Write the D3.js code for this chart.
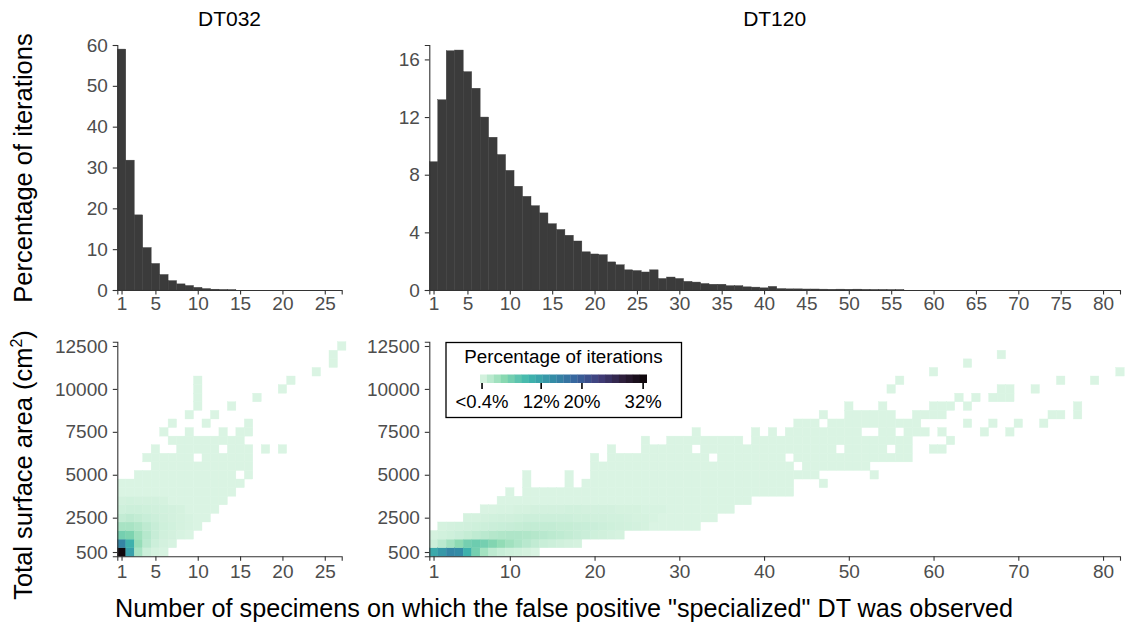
<!DOCTYPE html>
<html>
<head>
<meta charset="utf-8">
<script src="https://cdn.jsdelivr.net/npm/d3@7"></script>
<style>
  body { margin: 0; background: #fff; }
  text { font-family: "Liberation Sans", Arial, Helvetica, sans-serif; }
</style>
</head>
<body>
<div id="chart"></div>
<script>
// ---- histogram values: % of iterations for 1, 2, 3 ... specimens ----
var dt032Hist = [59, 31.8, 18.4, 10.4, 6.5, 3.8, 2.3, 1.5, 1.1, 0.65, 0.35, 0.2, 0.1, 0.05];
var dt120Hist = [8.9, 13.2, 16.6, 16.65, 15.15, 14.0, 12.0, 10.6, 9.4, 8.3, 7.2, 6.5, 5.85, 5.35,
  4.6, 4.2, 3.8, 3.4, 2.65, 2.5, 2.45, 1.95, 1.75, 1.4, 1.35, 1.25, 1.4, 0.8, 0.9, 0.8,
  0.6, 0.55, 0.45, 0.4, 0.4, 0.3, 0.3, 0.22, 0.2, 0.15, 0.25, 0.1, 0.08, 0.08, 0.07, 0.07,
  0.06, 0.05, 0.06, 0.05, 0.06, 0.04, 0.03, 0.03, 0.02, 0.02];

// tick values
var dt032HistYTicks = [0, 10, 20, 30, 40, 50, 60];
var dt120HistYTicks = [0, 4, 8, 12, 16];
var dt032XTicks = [1, 5, 10, 15, 20, 25];
var dt120HistXTicks = [1, 5, 10, 15, 20, 25, 30, 35, 40, 45, 50, 55, 60, 65, 70, 75, 80];
var dt120HeatXTicks = [1, 10, 20, 30, 40, 50, 60, 70, 80];
var areaTicks = [500, 2500, 5000, 7500, 10000, 12500];
var legendTicks = [0.4, 12, 20, 32];
var legendLabels = ["<0.4%", "12%", "20%", "32%"];

// ---- heat maps: occupied bins [specimens, area from, area to] in cm² (bins of 500) ----
var dt032Cells = [
  [1, 500, 4500], [2, 500, 4500], [3, 500, 5000], [4, 500, 5000], [4, 6000, 6000],
  [5, 500, 6500], [6, 500, 6500], [6, 7500, 7500], [7, 1000, 7000], [7, 8000, 8000],
  [8, 1500, 7000], [9, 1500, 7500], [9, 8500, 8500], [10, 2000, 7000], [10, 9000, 10500],
  [11, 2500, 7000], [11, 8000, 8000], [12, 3000, 7000], [12, 8500, 8500], [13, 3500, 7500],
  [14, 4000, 7000], [14, 9000, 9000], [15, 4500, 7500], [16, 5000, 8000], [17, 9500, 9500],
  [18, 6500, 6500], [20, 6500, 6500], [20, 10000, 10000], [21, 10500, 10500],
  [24, 11000, 11000], [26, 11500, 12000], [27, 12500, 12500]
];
var dt032Gaps = [[6, 6500], [7, 6500], [10, 6000], [13, 6500], [15, 5000], [16, 7000]];
// shaded rows: [area, % for specimens 1, 2, 3 ...]
var dt032Shades = [
  [500,  [32, 12, 3, 1, 0.5, 0.4]],
  [1000, [15, 10, 4, 2, 1, 0.6, 0.4]],
  [1500, [6, 5.5, 3.5, 2.2, 1.3, 0.8, 0.6, 0.4]],
  [2000, [3, 3, 2.5, 1.8, 1.3, 0.9, 0.7, 0.5, 0.4]],
  [2500, [1.5, 1.8, 1.5, 1.2, 1, 0.8, 0.6, 0.5, 0.4]],
  [3000, [0.9, 1, 1, 0.9, 0.8, 0.7, 0.6, 0.5]],
  [3500, [0.6, 0.7, 0.6, 0.6, 0.6, 0.5]]
];

var dt120Cells = [
  [1, 500, 1500], [2, 500, 2000], [3, 500, 2000], [4, 500, 2000], [5, 500, 2500], [6, 500, 2500],
  [7, 500, 3000], [8, 500, 3000], [9, 500, 3500], [10, 500, 4000], [11, 500, 3500], [12, 500, 5000],
  [13, 500, 4000], [14, 1000, 4000], [15, 1000, 4000], [16, 1000, 4000], [17, 1000, 5000], [18, 1000, 4000],
  [19, 1500, 4500], [20, 1500, 6000], [21, 1500, 6000], [22, 1500, 6000], [22, 6500, 6500], [23, 1500, 6000],
  [24, 2000, 6000], [25, 2000, 6000], [26, 2000, 6500], [26, 7000, 7000], [27, 2000, 6500], [28, 2000, 6500],
  [29, 2000, 7000], [30, 2000, 7000], [31, 2000, 7000], [32, 2000, 7500], [33, 2500, 7000],
  [34, 2500, 7000], [35, 3000, 7000], [36, 3000, 7000], [37, 3500, 7000], [38, 3500, 6500],
  [39, 4000, 7500], [40, 4000, 7000], [41, 4000, 7500], [42, 4000, 7000], [43, 4000, 7500],
  [44, 5000, 8000], [45, 5000, 8000], [46, 5000, 8000], [47, 4500, 7500], [47, 8500, 8500],
  [48, 5500, 8000], [49, 5500, 8000], [50, 5500, 9000], [51, 5500, 8500], [52, 5500, 8500],
  [53, 5000, 8500], [54, 6000, 9000], [55, 6000, 8500], [55, 10000, 10000], [56, 6000, 8000],
  [56, 10500, 10500], [57, 6000, 8000], [58, 7500, 8500], [59, 7500, 7500], [59, 8500, 8500],
  [60, 6500, 6500], [60, 8500, 9000], [60, 11000, 11000], [61, 6500, 6500], [61, 7500, 7500],
  [61, 8500, 9000], [62, 7000, 7000], [62, 9000, 9000], [63, 9500, 9500], [64, 8000, 8000],
  [64, 9000, 9000], [64, 11500, 11500], [65, 9500, 9500], [66, 7500, 7500], [67, 8000, 8000],
  [67, 9500, 9500], [68, 9500, 10000], [68, 12000, 12000], [69, 7500, 7500], [69, 9500, 10000],
  [70, 8000, 8000], [72, 10000, 10000], [73, 8000, 8000], [74, 8500, 8500], [75, 8500, 8500],
  [75, 10500, 10500], [77, 8500, 9000], [79, 10500, 10500], [82, 11000, 11000]
];
var dt120Gaps = [[21, 6000], [32, 6500], [34, 6000], [43, 6000], [44, 5500], [47, 5000], [47, 8000],
  [49, 6500], [52, 7500], [53, 5500], [53, 7500], [55, 6500], [56, 7500]];
var dt120Shades = [
  [500,  [11, 13, 15, 14.5, 10, 6, 3.2, 1.8, 1.2, 0.9, 0.7, 0.5]],
  [1000, [1, 2, 3.2, 4.5, 6, 6.5, 6, 5.2, 4.2, 3.4, 2.7, 2.1, 1.6, 1.2, 1, 0.8, 0.6, 0.5]],
  [1500, [0.5, 0.7, 0.9, 1.1, 1.4, 1.7, 2, 2.3, 2.5, 2.6, 2.6, 2.5, 2.3, 2.1, 1.9, 1.7, 1.5, 1.3,
          1.1, 0.9, 0.8, 0.6, 0.5]],
  [2000, [0, 0.5, 0.6, 0.7, 0.8, 0.9, 1, 1.1, 1.2, 1.3, 1.4, 1.5, 1.5, 1.5, 1.5, 1.4, 1.4, 1.3,
          1.2, 1.1, 1, 0.9, 0.8, 0.7, 0.6, 0.5]],
  [2500, [0, 0, 0, 0, 0.5, 0.5, 0.6, 0.7, 0.8, 0.8, 0.9, 1, 1, 1, 1, 1, 1, 0.9, 0.9, 0.8, 0.8,
          0.7, 0.7, 0.6, 0.5, 0.5, 0.4]],
  [3000, [0, 0, 0, 0, 0, 0, 0.3, 0.3, 0.4, 0.4, 0.5, 0.5, 0.6, 0.6, 0.6, 0.6, 0.7, 0.7, 0.6, 0.6,
          0.6, 0.6, 0.5, 0.5, 0.5, 0.4, 0.4, 0.4]]
];

// reversed mako palette, light to dark
var makoColors = ["#DEF5E5", "#8AD9B1", "#40B7AD", "#348FA7", "#37659E", "#413D7B", "#2E1E3B", "#0B0405"];

// ---- layout ----
var svg = d3.select("#chart").append("svg")
  .attr("width", 1130)
  .attr("height", 627);

var font = '"Liberation Sans", Arial, sans-serif';
var pctMax = 32.7;

var xLeft = d3.scaleLinear().domain([0.5, 27]).range([117.3, 341.7]);
var xRight = d3.scaleLinear().domain([0.5, 82]).range([429.3, 1120]);
var yHistL = d3.scaleLinear().domain([0, 60]).range([290, 45]);
var yHistR = d3.scaleLinear().domain([0, 17]).range([290, 45]);
var yArea = d3.scaleLinear().domain([250, 12750]).range([556.3, 341.7]);

var color = d3.scaleLinear()
  .domain(makoColors.map((c, i) => i / (makoColors.length - 1) * pctMax))
  .range(makoColors)
  .clamp(true);

// turn the bin ranges into cells
function buildCells(ranges, gaps, shades) {
  var cells = [];
  ranges.forEach(r => {
    for (var a = r[1]; a <= r[2]; a += 500) cells.push({ n: r[0], area: a, pct: 0.2 });
  });
  cells = cells.filter(c => !gaps.some(g => g[0] === c.n && g[1] === c.area));
  shades.forEach(row => {
    row[1].forEach((p, i) => {
      if (!p) return;
      var cell = cells.find(c => c.n === i + 1 && c.area === row[0]);
      if (cell) cell.pct = p;
    });
  });
  return cells;
}

function styleAxis(g) {
  g.attr("font-size", null).attr("font-family", null);
  g.select(".domain").attr("stroke", "#333").attr("stroke-width", 1.1);
  g.selectAll(".tick line").attr("stroke", "#333").attr("stroke-width", 1.1);
  g.selectAll(".tick text").attr("fill", "#4d4d4d").style("font-size", "19px").style("font-family", font);
}

function drawHist(vals, x, y, xTicks, yTicks) {
  var g = svg.append("g");
  g.selectAll("rect").data(vals).enter().append("rect")
    .attr("x", (d, i) => x(i + 0.5))
    .attr("width", (d, i) => x(i + 1.5) - x(i + 0.5))
    .attr("y", d => y(d))
    .attr("height", d => y(0) - y(d))
    .attr("fill", "#3b3b3b")
    .attr("stroke", "#3b3b3b")
    .attr("stroke-width", 0.4);

  svg.append("g")
    .attr("transform", `translate(0,${y(0)})`)
    .call(d3.axisBottom(x).tickValues(xTicks).tickSizeOuter(0).tickSize(4.5).tickPadding(2))
    .call(styleAxis);
  svg.append("g")
    .attr("transform", `translate(${x.range()[0]},0)`)
    .call(d3.axisLeft(y).tickValues(yTicks).tickSizeOuter(0).tickSize(4.5).tickPadding(5))
    .call(styleAxis);
}

function drawHeat(cells, x, xTicks) {
  var g = svg.append("g");
  g.selectAll("rect").data(cells).enter().append("rect")
    .attr("x", d => x(d.n - 0.5))
    .attr("width", d => x(d.n + 0.5) - x(d.n - 0.5))
    .attr("y", d => yArea(d.area + 250))
    .attr("height", d => yArea(d.area - 250) - yArea(d.area + 250))
    .attr("fill", d => color(d.pct))
    .attr("stroke", d => color(d.pct))
    .attr("stroke-width", 0.4);

  svg.append("g")
    .attr("transform", `translate(0,${yArea.range()[0]})`)
    .call(d3.axisBottom(x).tickValues(xTicks).tickSizeOuter(0).tickSize(4.5).tickPadding(3.5))
    .call(styleAxis);
  svg.append("g")
    .attr("transform", `translate(${x.range()[0]},0)`)
    .call(d3.axisLeft(yArea).tickValues(areaTicks).tickFormat(d3.format("d"))
      .tickSizeOuter(0).tickSize(4.5).tickPadding(5))
    .call(styleAxis);
}

drawHist(dt032Hist, xLeft, yHistL, dt032XTicks, dt032HistYTicks);
drawHist(dt120Hist, xRight, yHistR, dt120HistXTicks, dt120HistYTicks);
drawHeat(buildCells(dt032Cells, dt032Gaps, dt032Shades), xLeft, dt032XTicks);
drawHeat(buildCells(dt120Cells, dt120Gaps, dt120Shades), xRight, dt120HeatXTicks);

// ---- panel titles ----
svg.append("text").attr("x", d3.mean(xLeft.range())).attr("y", 26)
  .attr("text-anchor", "middle").style("font-size", "21px").text("DT032");
svg.append("text").attr("x", d3.mean(xRight.range())).attr("y", 26)
  .attr("text-anchor", "middle").style("font-size", "21px").text("DT120");

// ---- axis titles ----
svg.append("text")
  .attr("transform", "translate(32,168) rotate(-90)")
  .attr("text-anchor", "middle").style("font-size", "25.5px")
  .text("Percentage of iterations");

var areaTitle = svg.append("text")
  .attr("transform", "translate(32,465) rotate(-90)")
  .attr("text-anchor", "middle").style("font-size", "25.5px");
areaTitle.append("tspan").text("Total surface area (cm");
areaTitle.append("tspan").attr("dy", -10).style("font-size", "16px").text("2");
areaTitle.append("tspan").attr("dy", 10).text(")");

svg.append("text").attr("x", 564).attr("y", 617)
  .attr("text-anchor", "middle").style("font-size", "25.2px")
  .text('Number of specimens on which the false positive "specialized" DT was observed');

// ---- legend ----
var legend = svg.append("g");
legend.append("rect")
  .attr("x", 446).attr("y", 342.5).attr("width", 235.5).attr("height", 75)
  .attr("fill", "#fff").attr("stroke", "#000").attr("stroke-width", 1.3);
legend.append("text").attr("x", 563.5).attr("y", 363)
  .attr("text-anchor", "middle").style("font-size", "18.8px")
  .text("Percentage of iterations");

var legX = d3.scaleLinear().domain([0, pctMax]).range([480, 646.7]);
var steps = d3.range(24).map(i => i / 24 * pctMax);
legend.selectAll(".step").data(steps).enter().append("rect")
  .attr("x", d => legX(d))
  .attr("width", legX(pctMax / 24) - legX(0) + 0.3)
  .attr("y", 374.5).attr("height", 8.5)
  .attr("fill", d => color(d + pctMax / 48));
legend.selectAll(".tk").data(legendTicks).enter().append("line")
  .attr("x1", d => legX(d)).attr("x2", d => legX(d))
  .attr("y1", 383).attr("y2", 389)
  .attr("stroke", "#000").attr("stroke-width", 1.6);
legend.selectAll(".lb").data(legendTicks).enter().append("text")
  .attr("x", d => legX(d)).attr("y", 408)
  .attr("text-anchor", "middle").style("font-size", "18.5px")
  .text((d, i) => legendLabels[i]);
</script>
</body>
</html>
